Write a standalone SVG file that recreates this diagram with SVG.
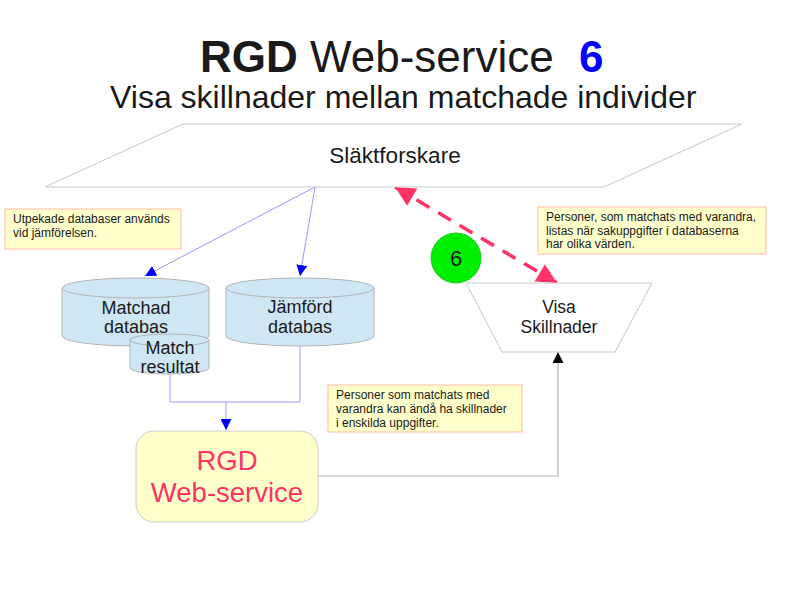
<svg xmlns="http://www.w3.org/2000/svg" width="794" height="595" viewBox="0 0 794 595">
<style>
text{font-family:"Liberation Sans",Arial,sans-serif;fill:#1a1a1a}
.note rect{fill:#ffffcc;stroke:#ffbbaa;stroke-width:1}
.note text{font-size:12px}
.cyl{fill:#cfe7f5;stroke:#b3b3b3;stroke-width:1}
.lbl{font-size:18px;text-anchor:middle}
.blue{fill:none;stroke:#9999ff;stroke-width:1}
</style>
<defs>
<marker id="ab" viewBox="0 0 10 10" refX="10" refY="5" markerWidth="11" markerHeight="11" markerUnits="userSpaceOnUse" orient="auto"><path d="M0,0L10,5L0,10z" fill="#0000ff"/></marker>
<marker id="ak" viewBox="0 0 10 10" refX="10" refY="5" markerWidth="11" markerHeight="11" markerUnits="userSpaceOnUse" orient="auto"><path d="M0,0L10,5L0,10z" fill="#000"/></marker>
<marker id="ap" viewBox="0 0 10 10" refX="10" refY="5" markerWidth="22" markerHeight="20" markerUnits="userSpaceOnUse" orient="auto-start-reverse"><path d="M0,0L10,5L0,10z" fill="#ff3366"/></marker>
</defs>
<rect width="794" height="595" fill="#fff"/>
<g id="title">
<text x="200" y="72" style="font-size:44px"><tspan font-weight="bold">RGD</tspan> Web-service</text>
<text x="579" y="72" style="font-size:44px;font-weight:bold;fill:#0000ff">6</text>
<text x="110" y="108" style="font-size:32px">Visa skillnader mellan matchade individer</text>
</g>
<g id="connectors">
<line class="blue" x1="315" y1="187" x2="145" y2="276" marker-end="url(#ab)"/>
<line class="blue" x1="315" y1="187" x2="300" y2="276" marker-end="url(#ab)"/>
<path class="blue" d="M170,374V402H300V345"/>
<line class="blue" x1="226" y1="402" x2="226" y2="430" marker-end="url(#ab)"/>
<path d="M318,476H558V352" fill="none" stroke="#b3b3b3" stroke-width="1.2" marker-end="url(#ak)"/>
<line x1="395" y1="187" x2="557" y2="283" stroke="#ff3366" stroke-width="3.5" stroke-dasharray="15,10" marker-start="url(#ap)" marker-end="url(#ap)"/>
</g>
<g id="slaktforskare">
<polygon points="183,124 742,124 604,187 45,187" fill="#fff" stroke="#c8c8c8" stroke-width="1"/>
<text x="395" y="163" text-anchor="middle" style="font-size:22.5px">Släktforskare</text>
</g>
<g id="matchad">
<path class="cyl" d="M62,288V336A73.5,10 0 0 0 209,336V288"/>
<ellipse class="cyl" cx="135.5" cy="288" rx="73.5" ry="10"/>
<text class="lbl" x="136" y="314">Matchad</text>
<text class="lbl" x="136" y="333">databas</text>
</g>
<g id="jamford">
<path class="cyl" d="M226,288V336A74,10 0 0 0 374,336V288"/>
<ellipse class="cyl" cx="300" cy="288" rx="74" ry="10"/>
<text class="lbl" x="300" y="313">Jämförd</text>
<text class="lbl" x="300" y="333">databas</text>
</g>
<g id="matchresultat">
<path class="cyl" d="M130,340V368A39.5,6 0 0 0 209,368V340"/>
<ellipse class="cyl" cx="169.5" cy="340" rx="39.5" ry="6"/>
<text class="lbl" x="170" y="354">Match</text>
<text class="lbl" x="170" y="373">resultat</text>
</g>
<g id="rgd">
<rect x="136" y="431" width="182" height="91" rx="18" ry="18" fill="#ffffcc" stroke="#cccccc" stroke-width="1"/>
<text x="227" y="470" text-anchor="middle" style="font-size:27.5px;fill:#ff3366">RGD</text>
<text x="227" y="502" text-anchor="middle" style="font-size:27.5px;fill:#ff3366">Web-service</text>
</g>
<g id="visa">
<polygon points="466,283 652,283 615,352 502,352" fill="#fff" stroke="#c8c8c8" stroke-width="1"/>
<text x="559" y="313" text-anchor="middle" style="font-size:17.5px">Visa</text>
<text x="559" y="333" text-anchor="middle" style="font-size:17.5px">Skillnader</text>
</g>
<g id="badge">
<circle cx="456" cy="258" r="25" fill="#00ee00" stroke="#22cc22" stroke-width="1"/>
<text x="456" y="266" text-anchor="middle" style="font-size:22px">6</text>
</g>
<g id="note1" class="note">
<rect x="5" y="209" width="176" height="40"/>
<text x="13" y="223">Utpekade databaser används</text>
<text x="13" y="237">vid jämförelsen.</text>
</g>
<g id="note2" class="note">
<rect x="538" y="207" width="228" height="47"/>
<text x="546" y="221">Personer, som matchats med varandra,</text>
<text x="546" y="235">listas när sakuppgifter i databaserna</text>
<text x="546" y="248">har olika värden.</text>
</g>
<g id="note3" class="note">
<rect x="328" y="385" width="194" height="47"/>
<text x="336" y="399">Personer som matchats med</text>
<text x="336" y="413">varandra kan ändå ha skillnader</text>
<text x="336" y="427">i enskilda uppgifter.</text>
</g>
</svg>
